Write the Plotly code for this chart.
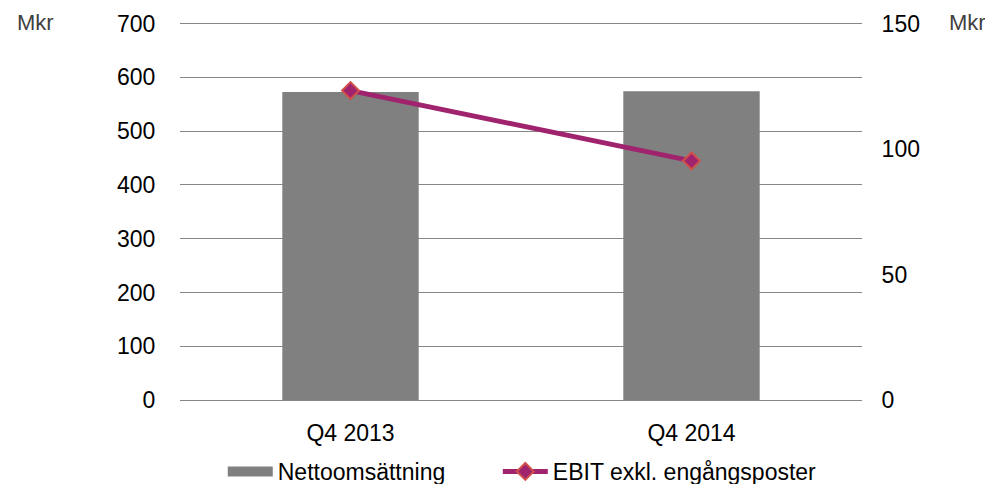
import plotly.graph_objects as go

categories = ["Q4 2013", "Q4 2014"]
nettoomsattning = [573, 574]
ebit_exkl = [123.3, 95.3]

fig = go.Figure()

fig.add_trace(go.Bar(
    x=categories, y=nettoomsattning,
    name="Nettoomsättning",
    marker=dict(color="#808080", line=dict(width=0)),
    width=0.4,
    showlegend=False,
))

# legend entry for the bars (wide grey block like the original)
fig.add_trace(go.Scatter(
    x=[None], y=[None],
    name="Nettoomsättning",
    mode="lines",
    line=dict(color="#808080", width=10),
    legend="legend",
))

fig.add_trace(go.Scatter(
    x=categories, y=ebit_exkl,
    name="EBIT exkl. engångsposter",
    mode="lines+markers",
    line=dict(color="#A0236E", width=5),
    marker=dict(symbol="diamond", size=13, color="#A0236E",
                line=dict(color="#D0504A", width=2)),
    yaxis="y2",
    legend="legend2",
))

fig.add_annotation(text="Mkr", xref="paper", yref="paper", x=-0.242, y=1.0,
                   xanchor="left", yanchor="middle", showarrow=False,
                   font=dict(size=22, color="#404040"))
fig.add_annotation(text="Mkr", xref="paper", yref="paper", x=1.1246, y=1.0,
                   xanchor="left", yanchor="middle", showarrow=False,
                   font=dict(size=22, color="#404040"))

leg = dict(orientation="h", xanchor="left", y=-0.189, yanchor="middle",
           font=dict(size=23), itemwidth=45, bgcolor="rgba(0,0,0,0)")

fig.update_layout(
    width=977, height=476,
    margin=dict(l=172, r=123, t=14, b=84, autoexpand=False),
    plot_bgcolor="white",
    paper_bgcolor="white",
    font=dict(family="Liberation Sans, Arial", size=23, color="black"),
    showlegend=True,
    legend=dict(leg, x=0.0627),
    legend2=dict(leg, x=0.466),
    xaxis=dict(showgrid=False, ticks="outside", ticklen=12, tickcolor="rgba(0,0,0,0)",
               showline=False),
    yaxis=dict(range=[0, 703], dtick=100, gridcolor="#878787", gridwidth=1,
               zeroline=True, zerolinecolor="#878787", zerolinewidth=1,
               ticks="outside", ticklen=19, tickcolor="rgba(0,0,0,0)",
               showline=False),
    yaxis2=dict(range=[0, 150 * 703 / 700], dtick=50, overlaying="y", side="right",
                showgrid=False, zeroline=False,
                ticks="outside", ticklen=14, tickcolor="rgba(0,0,0,0)",
                showline=False),
)

fig.write_html("out.html")
